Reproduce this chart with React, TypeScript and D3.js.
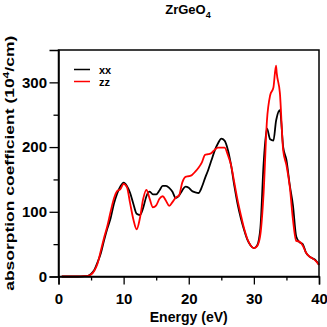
import React, { useEffect, useRef } from "react";
import * as d3 from "d3";

// energy grid (eV)
const energy = [
  0.5, 1, 2, 3, 4, 4.5, 5, 5.5, 6, 6.5, 7, 7.5, 8, 8.5, 9, 9.5, 10, 10.5, 11, 11.5,
  12, 12.5, 13, 13.5, 14, 14.5, 15, 15.5, 16, 16.5, 17, 17.5, 18, 18.5, 19, 19.5,
  20, 20.5, 21, 21.5, 22, 22.5, 23, 23.5, 24, 24.5, 25, 25.5, 26, 26.5, 27, 27.5,
  28, 28.5, 29, 29.5, 30, 30.5, 31, 31.5, 32, 32.5, 33, 33.4, 33.5, 34, 34.5, 35,
  35.5, 36, 36.5, 37, 37.5, 38, 38.5, 39, 39.5, 40,
];

// absorption coefficient (10^4/cm)
const xx = [
  0, 0, 0, 0, 0.5, 1, 4, 10, 22, 36, 56, 74, 90, 112, 128, 139, 145, 140, 129, 112,
  97, 95, 106, 124, 131, 127, 127, 133, 140, 140, 137, 131, 121, 125, 133, 139,
  137, 132, 130, 129, 138, 152, 165, 180, 195, 206, 213, 210, 196, 172, 140, 112,
  90, 72, 57, 48, 44, 48, 75, 175, 229, 212, 210, 240, 245, 257, 200, 180,
  142, 110, 62, 53, 50, 37, 31, 28, 25, 18,
];

const zz = [
  0, 0, 0, 0, 0.5, 1, 3, 9, 20, 40, 60, 78, 100, 120, 132, 135, 143, 138, 113, 88,
  73, 90, 120, 134, 120, 107, 110, 120, 124, 117, 109, 115, 122, 125, 145, 154,
  155, 157, 162, 168, 176, 188, 189, 191, 196, 199, 199, 199, 188, 172, 145, 118,
  95, 74, 58, 48, 44, 47, 65, 130, 240, 280, 292, 326, 315, 283, 195, 172,
  140, 88, 55, 54, 48, 37, 31, 28, 24, 18,
];

const seriesNames = ["xx", "zz"];
const seriesColors = ["#000000", "#ff0000"];
const xTicks = [0, 10, 20, 30, 40];
const yTicks = [0, 100, 200, 300];

const W = 327;
const H = 327;
const m = { left: 58.5, right: 8, top: 50, bottom: 50.5 };

export default function App() {
  const ref = useRef<SVGSVGElement>(null);

  useEffect(() => {
    const svg = d3.select(ref.current);
    svg.selectAll("*").remove();

    const x = d3.scaleLinear().domain([0, 40]).range([m.left, W - m.right]);
    const y = d3.scaleLinear().domain([0, 350]).range([H - m.bottom, m.top]);
    const font = "'Liberation Sans', Arial, Helvetica, sans-serif";

    // curves
    const line = d3
      .line<number>()
      .x((_, i) => x(energy[i]))
      .y((d) => y(d))
      .curve(d3.curveMonotoneX);

    [xx, zz].forEach((vals, k) => {
      svg
        .append("path")
        .attr("d", line(vals))
        .attr("fill", "none")
        .attr("stroke", seriesColors[k])
        .attr("stroke-width", 1.8)
        .attr("stroke-linejoin", "round");
    });

    // frame
    svg
      .append("rect")
      .attr("x", m.left)
      .attr("y", m.top)
      .attr("width", W - m.left - m.right)
      .attr("height", H - m.top - m.bottom)
      .attr("fill", "none")
      .attr("stroke", "#000")
      .attr("stroke-width", 1.5);

    // x axis
    const xAxis = svg
      .append("g")
      .attr("transform", `translate(0,${H - m.bottom})`)
      .call(d3.axisBottom(x).tickValues(xTicks).tickSize(8).tickFormat(d3.format("d")));
    svg
      .append("g")
      .attr("transform", `translate(0,${H - m.bottom})`)
      .call(d3.axisBottom(x).tickValues([5, 15, 25, 35]).tickSize(4).tickFormat(() => ""))
      .call((g) => g.select(".domain").remove());

    // y axis
    const yAxis = svg
      .append("g")
      .attr("transform", `translate(${m.left},0)`)
      .call(d3.axisLeft(y).tickValues(yTicks).tickSize(9).tickFormat(d3.format("d")));
    svg
      .append("g")
      .attr("transform", `translate(${m.left},0)`)
      .call(d3.axisLeft(y).tickValues([50, 150, 250]).tickSize(5).tickFormat(() => ""))
      .call((g) => g.select(".domain").remove());

    svg.selectAll(".domain").attr("stroke-width", 1.5);
    svg.selectAll(".tick line").attr("stroke-width", 1.3);
    svg
      .selectAll(".tick text")
      .attr("font-family", font)
      .attr("font-weight", "bold")
      .attr("font-size", 15)
      .attr("fill", "#000");
    xAxis.selectAll(".tick text").attr("dy", null).attr("y", 27);
    yAxis.selectAll(".tick text").attr("x", -11.5);

    // title
    const title = svg
      .append("text")
      .attr("x", 188)
      .attr("y", 14)
      .attr("text-anchor", "middle")
      .attr("font-family", font)
      .attr("font-weight", "bold")
      .attr("font-size", 13);
    title.append("tspan").text("ZrGeO");
    title.append("tspan").attr("dy", 4).attr("font-size", 9).text("4");

    // axis labels
    svg
      .append("text")
      .attr("x", (m.left + W - m.right) / 2)
      .attr("y", 321.5)
      .attr("text-anchor", "middle")
      .attr("font-family", font)
      .attr("font-weight", "bold")
      .attr("font-size", 15)
      .attr("textLength", 78)
      .attr("lengthAdjust", "spacingAndGlyphs")
      .text("Energy (eV)");

    const yl = svg
      .append("text")
      .attr("transform", `translate(14,${(m.top + H - m.bottom) / 2}) rotate(-90)`)
      .attr("text-anchor", "middle")
      .attr("font-family", font)
      .attr("font-weight", "bold")
      .attr("font-size", 13)
      .attr("textLength", 255)
      .attr("lengthAdjust", "spacingAndGlyphs");
    yl.append("tspan").text("absorption coefficient (10");
    yl.append("tspan").attr("dy", -5).attr("font-size", 9).text("4");
    yl.append("tspan").attr("dy", 5).text("/cm)");

    // legend
    seriesNames.forEach((name, k) => {
      const ly = 69.5 + k * 12;
      svg
        .append("line")
        .attr("x1", 74)
        .attr("x2", 90)
        .attr("y1", ly)
        .attr("y2", ly)
        .attr("stroke", seriesColors[k])
        .attr("stroke-width", 1.5);
      svg
        .append("text")
        .attr("x", 99)
        .attr("y", ly + 4)
        .attr("font-family", font)
        .attr("font-weight", "bold")
        .attr("font-size", 11)
        .text(name);
    });
  }, []);

  return (
    <svg
      ref={ref}
      width={W}
      height={H}
      style={{ position: "fixed", left: 0, top: 0, background: "#fff" }}
    />
  );
}
